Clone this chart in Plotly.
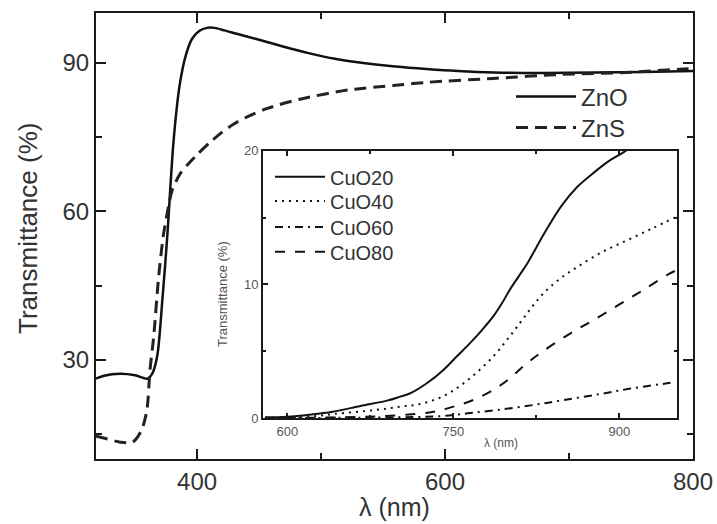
import plotly.graph_objects as go

# ---- main plot data ----
zno_x = [318.5, 325, 338, 350, 360, 364, 368, 372, 376, 381, 386, 391, 396, 402, 408, 414, 422, 432, 450, 470, 490, 510, 531, 560, 585, 610, 640, 680, 720, 760, 800]
zno_y = [26.2, 26.8, 27.2, 26.9, 26.2, 27.3, 31.0, 42.0, 55.0, 74.0, 85.5, 91.5, 94.8, 96.4, 97.0, 97.0, 96.5, 95.8, 94.6, 93.2, 91.9, 90.8, 90.0, 89.2, 88.7, 88.3, 88.0, 87.9, 88.0, 88.1, 88.3]

zns_x = [318.5, 327, 338, 348, 355, 359.5, 362, 365, 369, 373, 377, 380, 386, 392, 400, 410, 420, 429, 440, 456, 483, 523, 560, 585, 639, 693, 746, 792, 800]
zns_y = [14.6, 14.1, 13.4, 13.4, 15.7, 19.8, 27.8, 34.6, 46.7, 55.4, 61.0, 64.3, 67.4, 69.3, 71.4, 73.8, 75.9, 77.5, 79.0, 80.7, 82.6, 84.5, 85.4, 86.0, 86.8, 87.6, 88.0, 88.7, 88.8]

# ---- inset data ----
cuo20_x = [580, 600, 620, 641, 666, 690, 702, 711, 726, 741, 753, 765, 776, 786, 794, 801, 809, 817, 832, 847, 862, 876, 890, 904, 920]
cuo20_y = [0.05, 0.1, 0.25, 0.47, 0.9, 1.3, 1.6, 1.85, 2.6, 3.6, 4.6, 5.6, 6.6, 7.6, 8.6, 9.6, 10.6, 11.6, 13.8, 15.8, 17.3, 18.3, 19.2, 19.9, 20.8]

cuo40_x = [580, 620, 642, 680, 702, 720, 740, 756, 771, 786, 798, 810, 820, 831, 846, 862, 884, 907, 930, 950]
cuo40_y = [0.02, 0.1, 0.3, 0.6, 0.85, 1.05, 1.6, 2.4, 3.4, 4.6, 5.8, 7.1, 8.2, 9.3, 10.4, 11.3, 12.4, 13.3, 14.2, 15.0]

cuo60_x = [580, 700, 740, 763, 790, 822, 850, 883, 910, 943, 950]
cuo60_y = [0.0, 0.05, 0.15, 0.35, 0.6, 0.97, 1.35, 1.8, 2.2, 2.6, 2.7]

cuo80_x = [580, 650, 700, 732, 750, 768, 786, 800, 815, 831, 855, 876, 900, 922, 943, 950]
cuo80_y = [0.0, 0.05, 0.2, 0.47, 0.85, 1.35, 2.1, 2.9, 4.0, 5.0, 6.3, 7.3, 8.5, 9.6, 10.7, 11.0]

FONT = "Liberation Sans, Arial, sans-serif"
TXT = "#333333"
AX = "#1a1a1a"
SUB = "#555555"

fig = go.Figure()

fig.add_trace(go.Scatter(x=zno_x, y=zno_y, name="ZnO", mode="lines", showlegend=True,
                         line=dict(color="#111111", width=2.5, shape="spline", smoothing=0.8),
                         legend="legend"))
fig.add_trace(go.Scatter(x=zns_x, y=zns_y, name="ZnS", mode="lines", showlegend=True,
                         line=dict(color="#222222", width=3, dash="12px,7px", shape="spline", smoothing=0.8),
                         legend="legend2"))

fig.add_trace(go.Scatter(x=cuo20_x, y=cuo20_y, name="CuO20", mode="lines", xaxis="x2", yaxis="y2", showlegend=True,
                         line=dict(color="#111111", width=2, shape="spline", smoothing=1),
                         legend="legend3"))
fig.add_trace(go.Scatter(x=cuo40_x, y=cuo40_y, name="CuO40", mode="lines", xaxis="x2", yaxis="y2", showlegend=True,
                         line=dict(color="#111111", width=2, dash="2px,5px", shape="spline", smoothing=1),
                         legend="legend4"))
fig.add_trace(go.Scatter(x=cuo60_x, y=cuo60_y, name="CuO60", mode="lines", xaxis="x2", yaxis="y2", showlegend=True,
                         line=dict(color="#111111", width=2, dash="8px,5px,2px,5px", shape="spline", smoothing=1),
                         legend="legend5"))
fig.add_trace(go.Scatter(x=cuo80_x, y=cuo80_y, name="CuO80", mode="lines", xaxis="x2", yaxis="y2", showlegend=True,
                         line=dict(color="#111111", width=2, dash="10px,10px", shape="spline", smoothing=1),
                         legend="legend6"))

main_axis = dict(showline=True, linecolor=AX, linewidth=2, mirror="ticks", ticks="inside",
                 ticklen=10, tickwidth=2, tickcolor=AX, showgrid=False, zeroline=False,
                 automargin=False, tickfont=dict(family=FONT, size=24, color=TXT))
inset_axis = dict(showline=True, linecolor=AX, linewidth=2, mirror="ticks", ticks="inside",
                  ticklen=5, tickwidth=1.5, tickcolor=AX, showgrid=False, zeroline=False,
                  automargin=False, tickfont=dict(family=FONT, size=13, color=SUB))

# inset domain
ix0, ix1 = (263 - 96) / 597, (677 - 96) / 597
iy0, iy1 = (459 - 418) / 446, (459 - 150.7) / 446


def leg(xpx, ypx, size, itemwidth):
    return dict(x=(xpx - 96) / 597, y=(459 - ypx) / 446, xanchor="left", yanchor="middle",
                bgcolor="rgba(0,0,0,0)", borderwidth=0,
                font=dict(family=FONT, size=size, color=TXT), itemwidth=itemwidth)


fig.update_layout(
    width=717, height=524,
    showlegend=True,
    margin=dict(l=96, r=24, t=13, b=65, autoexpand=False),
    paper_bgcolor="white", plot_bgcolor="white",
    font=dict(family=FONT, color=TXT),
    xaxis=dict(main_axis, range=[318.5, 800], tick0=0, dtick=200,
               minor=dict(dtick=100, ticks="inside", ticklen=6, tickwidth=2, tickcolor=AX)),
    yaxis=dict(main_axis, range=[10, 100], tick0=0, dtick=30,
               minor=dict(dtick=15, ticks="inside", ticklen=6, tickwidth=2, tickcolor=AX)),
    xaxis2=dict(inset_axis, domain=[ix0, ix1], anchor="y2", range=[578, 952], tick0=600, dtick=150,
                minor=dict(dtick=75, ticks="inside", ticklen=3, tickwidth=1.5, tickcolor=AX)),
    yaxis2=dict(inset_axis, domain=[iy0, iy1], anchor="x2", range=[0, 20], tick0=0, dtick=10,
                minor=dict(dtick=5, ticks="inside", ticklen=3, tickwidth=1.5, tickcolor=AX)),
    legend=leg(511, 97, 24, 60),
    legend2=leg(511, 128, 24, 60),
    legend3=leg(270, 176.7, 20, 50),
    legend4=leg(270, 201, 20, 50),
    legend5=leg(270, 227, 20, 50),
    legend6=leg(270, 251.7, 20, 50),
    annotations=[
        dict(text="Transmittance (%)", xref="paper", yref="paper",
             x=(28 - 96) / 597, y=(459 - 229) / 446, xanchor="center", yanchor="middle",
             textangle=-90, showarrow=False, font=dict(family=FONT, size=26, color=TXT)),
        dict(text="λ (nm)", xref="paper", yref="paper",
             x=(394 - 96) / 597, y=(459 - 507) / 446, xanchor="center", yanchor="middle",
             showarrow=False, font=dict(family=FONT, size=25, color=TXT)),
        dict(text="Transmittance (%)", xref="paper", yref="paper",
             x=(223 - 96) / 597, y=(459 - 294) / 446, xanchor="center", yanchor="middle",
             textangle=-90, showarrow=False, font=dict(family=FONT, size=13, color=SUB)),
        dict(text="λ (nm)", xref="paper", yref="paper",
             x=(501 - 96) / 597, y=(459 - 443) / 446, xanchor="center", yanchor="middle",
             showarrow=False, font=dict(family=FONT, size=12, color=SUB)),
    ],
)

fig.write_html("out.html")
